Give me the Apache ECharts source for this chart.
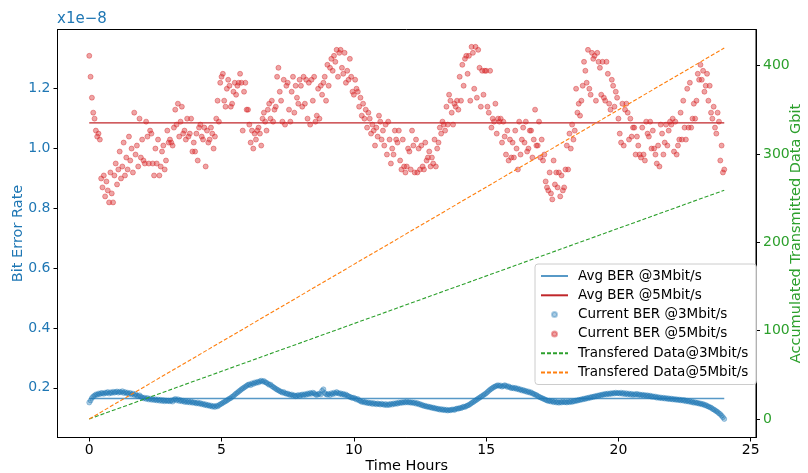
<!DOCTYPE html>
<html>
<head>
<meta charset="utf-8">
<script src="https://cdn.jsdelivr.net/npm/echarts/dist/echarts.min.js"></script>
<style>
  html, body { margin: 0; padding: 0; background: #fff; }
  #chart { width: 808px; height: 473px; }
</style>
</head>
<body>
<div id="chart"></div>
<script>
  // one sample every 3 minutes (0.05 h), 0 .. 24 h
  const STEP_HOURS = 0.05

  // current BER @5Mbit/s, x1e-8, one row per hour
  const berCur5 = [
    1.31, 1.24, 1.17, 1.12, 1.10, 1.06, 1.04, 1.05, 1.03, 0.90, 0.87, 0.91, 0.84, 0.89, 0.86, 0.82, 0.92, 0.85, 0.82, 0.91,
    0.95, 0.88, 0.93, 0.99, 0.90, 0.94, 1.02, 0.91, 0.97, 0.93, 1.04, 0.96, 1.00, 0.92, 1.12, 0.98, 1.01, 0.94, 1.10, 0.97,
    1.03, 0.96, 0.95, 1.09, 1.04, 0.95, 1.06, 1.05, 0.95, 0.91, 1.00, 0.95, 1.03, 0.91, 0.94, 0.99, 1.01, 0.93, 0.96, 1.06,
    1.02, 1.03, 1.02, 1.01, 1.07, 1.13, 1.08, 1.15, 1.04, 1.09, 1.14, 1.05, 1.06, 1.03, 1.10, 1.04, 1.05, 1.10, 0.99, 1.02,
    0.99, 1.05, 0.96, 1.07, 1.08, 1.04, 1.03, 1.07, 0.94, 1.06, 1.02, 1.03, 1.07, 1.05, 1.00, 1.04, 1.10, 1.16, 1.09, 1.22,
    1.24, 1.25, 1.16, 1.14, 1.20, 1.23, 1.21, 1.14, 1.15, 1.19, 1.22, 1.18, 1.21, 1.22, 1.25, 1.22, 1.06, 1.19, 1.22, 1.13,
    1.13, 1.08, 1.02, 1.06, 1.00, 1.05, 1.03, 1.06, 1.07, 1.05, 1.01, 1.10, 1.12, 1.09, 1.06, 1.13, 1.15, 1.10, 1.16, 1.09,
    1.13, 1.14, 1.24, 1.27, 1.19, 1.16, 1.09, 1.23, 1.08, 1.21, 1.22, 1.13, 1.09, 1.19, 1.24, 1.12, 1.21, 1.17, 1.15, 1.23,
    1.21, 1.14, 1.24, 1.15, 1.23, 1.10, 1.22, 1.08, 1.23, 1.16, 1.24, 1.09, 1.11, 1.20, 1.10, 1.21, 1.18, 1.22, 1.24, 1.16,
    1.28, 1.21, 1.27, 1.30, 1.26, 1.31, 1.29, 1.33, 1.24, 1.32, 1.33, 1.27, 1.25, 1.32, 1.22, 1.26, 1.23, 1.30, 1.24, 1.19,
    1.18, 1.23, 1.20, 1.19, 1.14, 1.17, 1.11, 1.15, 1.10, 1.13, 1.07, 1.12, 1.10, 1.05, 1.08, 1.06, 1.01, 1.07, 1.04, 1.11,
    1.09, 1.03, 1.06, 1.01, 1.08, 0.98, 1.09, 1.03, 0.95, 1.00, 0.98, 1.06, 1.03, 1.02, 1.06, 0.96, 0.93, 1.03, 0.94, 0.92,
    0.94, 1.00, 0.99, 0.93, 1.06, 1.01, 0.92, 1.03, 0.92, 1.00, 0.93, 1.01, 0.94, 0.93, 1.02, 0.96, 0.97, 0.99, 0.94, 0.97,
    0.95, 1.03, 0.94, 1.00, 1.02, 1.07, 1.05, 1.09, 1.08, 1.06, 1.14, 1.08, 1.18, 1.16, 1.12, 1.08, 1.15, 1.14, 1.16, 1.13,
    1.24, 1.16, 1.28, 1.21, 1.30, 1.31, 1.25, 1.31, 1.16, 1.34, 1.32, 1.20, 1.34, 1.17, 1.33, 1.27, 1.14, 1.26, 1.18, 1.26,
    1.26, 1.14, 1.12, 1.26, 1.07, 1.10, 1.09, 1.15, 1.05, 1.10, 1.09, 1.10, 1.02, 1.09, 1.04, 0.98, 1.06, 0.96, 1.03, 0.97,
    1.02, 0.97, 1.06, 1.00, 0.93, 1.09, 0.98, 1.03, 1.07, 1.02, 1.09, 0.99, 1.00, 1.06, 1.06, 0.97, 1.03, 1.13, 1.01, 1.01,
    1.09, 0.97, 1.03, 0.96, 0.98, 0.89, 0.87, 0.86, 0.92, 0.85, 0.83, 0.96, 0.88, 0.92, 0.87, 0.92, 0.84, 0.91, 0.86, 0.87,
    0.93, 1.01, 0.93, 1.05, 1.00, 1.08, 1.03, 1.06, 1.20, 1.12, 1.15, 1.11, 1.16, 1.21, 1.29, 1.26, 1.22, 1.33, 1.20, 1.18,
    1.32, 1.30, 1.31, 1.16, 1.32, 1.29, 1.27, 1.18, 1.29, 1.17, 1.16, 1.29, 1.25, 1.15, 1.13, 1.23, 1.21, 1.14, 1.19, 1.17,
    1.10, 1.05, 1.02, 1.15, 1.01, 1.13, 1.15, 1.12, 1.03, 1.10, 1.04, 1.07, 1.07, 0.98, 1.04, 1.01, 0.98, 0.97, 1.07, 0.98,
    0.96, 1.09, 1.05, 1.04, 1.09, 1.00, 1.06, 1.00, 0.98, 0.95, 1.01, 0.94, 1.08, 1.05, 0.98, 1.02, 1.08, 1.01, 1.06, 1.09,
    1.08, 1.10, 0.99, 1.09, 0.98, 1.01, 1.03, 1.12, 1.03, 1.16, 1.07, 1.03, 1.20, 1.07, 1.22, 1.07, 1.10, 1.15, 1.10, 1.16,
    1.25, 1.23, 1.28, 1.23, 1.26, 1.19, 1.21, 1.25, 1.16, 1.21, 1.12, 1.10, 1.14, 1.07, 1.05, 1.12, 1.09, 0.96, 1.01, 0.92,
    0.93
  ]

  // current BER @3Mbit/s, x1e-8, one row per hour
  const berCur3 = [
    0.151, 0.158, 0.166, 0.171, 0.174, 0.178, 0.177, 0.181, 0.179, 0.183, 0.182, 0.180, 0.184, 0.183, 0.186, 0.181, 0.185, 0.183, 0.187, 0.184,
    0.186, 0.188, 0.184, 0.187, 0.185, 0.189, 0.183, 0.186, 0.182, 0.184, 0.180, 0.183, 0.178, 0.181, 0.176, 0.179, 0.174, 0.172, 0.175, 0.170,
    0.168, 0.165, 0.167, 0.163, 0.166, 0.161, 0.164, 0.160, 0.163, 0.159, 0.162, 0.158, 0.161, 0.157, 0.160, 0.156, 0.159, 0.155, 0.158, 0.156,
    0.157, 0.155, 0.158, 0.154, 0.160, 0.163, 0.158, 0.162, 0.156, 0.159, 0.155, 0.157, 0.153, 0.156, 0.152, 0.155, 0.151, 0.154, 0.150, 0.152,
    0.150, 0.148, 0.151, 0.147, 0.149, 0.145, 0.147, 0.143, 0.145, 0.141, 0.143, 0.139, 0.141, 0.137, 0.139, 0.136, 0.140, 0.138, 0.142, 0.145,
    0.147, 0.150, 0.153, 0.155, 0.158, 0.161, 0.164, 0.166, 0.170, 0.173, 0.177, 0.181, 0.184, 0.188, 0.191, 0.195, 0.198, 0.201, 0.204, 0.207,
    0.210, 0.212, 0.209, 0.215, 0.213, 0.218, 0.216, 0.220, 0.218, 0.222, 0.224, 0.221, 0.223, 0.219, 0.217, 0.214, 0.210, 0.211, 0.206, 0.203,
    0.200, 0.197, 0.194, 0.192, 0.189, 0.187, 0.184, 0.186, 0.182, 0.180, 0.181, 0.178, 0.176, 0.178, 0.174, 0.175, 0.172, 0.174, 0.176, 0.173,
    0.176, 0.178, 0.175, 0.179, 0.177, 0.181, 0.179, 0.183, 0.180, 0.184, 0.182, 0.178, 0.176, 0.179, 0.181, 0.178, 0.190, 0.195, 0.183, 0.179,
    0.177, 0.180, 0.176, 0.182, 0.179, 0.184, 0.181, 0.186, 0.183, 0.180, 0.182, 0.178, 0.180, 0.176, 0.178, 0.174, 0.172, 0.170, 0.168, 0.166,
    0.167, 0.164, 0.161, 0.163, 0.158, 0.156, 0.153, 0.155, 0.151, 0.153, 0.149, 0.151, 0.148, 0.150, 0.146, 0.149, 0.147, 0.145, 0.148, 0.146,
    0.144, 0.147, 0.145, 0.143, 0.146, 0.142, 0.145, 0.143, 0.147, 0.144, 0.148, 0.146, 0.149, 0.147, 0.151, 0.149, 0.152, 0.150, 0.153, 0.151,
    0.154, 0.151, 0.153, 0.150, 0.152, 0.149, 0.151, 0.147, 0.149, 0.145, 0.146, 0.142, 0.143, 0.139, 0.140, 0.137, 0.138, 0.135, 0.136, 0.133,
    0.134, 0.131, 0.132, 0.129, 0.130, 0.127, 0.129, 0.126, 0.128, 0.125, 0.127, 0.124, 0.126, 0.125, 0.127, 0.128, 0.126, 0.129, 0.131, 0.130,
    0.133, 0.132, 0.135, 0.137, 0.136, 0.139, 0.141, 0.143, 0.146, 0.149, 0.152, 0.155, 0.158, 0.161, 0.164, 0.167, 0.170, 0.173, 0.176, 0.179,
    0.182, 0.186, 0.190, 0.194, 0.197, 0.200, 0.203, 0.205, 0.207, 0.209, 0.206, 0.208, 0.204, 0.206, 0.209, 0.207, 0.203, 0.205, 0.202, 0.199,
    0.201, 0.198, 0.200, 0.196, 0.198, 0.194, 0.195, 0.191, 0.193, 0.189, 0.190, 0.186, 0.188, 0.184, 0.185, 0.181, 0.180, 0.177, 0.176, 0.173,
    0.170, 0.168, 0.166, 0.164, 0.162, 0.160, 0.158, 0.156, 0.157, 0.154, 0.156, 0.152, 0.155, 0.151, 0.153, 0.150, 0.153, 0.151, 0.154, 0.152,
    0.153, 0.151, 0.154, 0.152, 0.155, 0.153, 0.156, 0.155, 0.158, 0.157, 0.160, 0.159, 0.162, 0.161, 0.164, 0.163, 0.166, 0.165, 0.168, 0.167,
    0.170, 0.169, 0.172, 0.171, 0.174, 0.173, 0.176, 0.175, 0.178, 0.177, 0.180, 0.178, 0.181, 0.179, 0.182, 0.180, 0.183, 0.181, 0.184, 0.182,
    0.183, 0.181, 0.184, 0.180, 0.183, 0.179, 0.182, 0.178, 0.181, 0.177, 0.180, 0.176, 0.179, 0.177, 0.180, 0.176, 0.178, 0.175, 0.177, 0.174,
    0.176, 0.173, 0.175, 0.172, 0.174, 0.170, 0.172, 0.169, 0.171, 0.167, 0.169, 0.166, 0.168, 0.165, 0.167, 0.164, 0.166, 0.163, 0.165, 0.162,
    0.164, 0.161, 0.163, 0.160, 0.162, 0.159, 0.161, 0.158, 0.160, 0.157, 0.159, 0.155, 0.157, 0.154, 0.156, 0.152, 0.154, 0.150, 0.152, 0.149,
    0.150, 0.147, 0.148, 0.145, 0.146, 0.142, 0.143, 0.139, 0.138, 0.135, 0.134, 0.130, 0.128, 0.125, 0.122, 0.119, 0.115, 0.112, 0.107, 0.102,
    0.096
  ]

  // average BER lines (x1e-8) over the whole run
  const avgHours = [0, 24]
  const avgBer3 = [0.164, 0.164]
  const avgBer5 = [1.086, 1.086]

  // accumulated transmitted data, Gbit
  const transferHours = [0, 24]
  const transfer3 = [0, 259]
  const transfer5 = [0, 420]

  // tick labels
  const xTicks = [0, 5, 10, 15, 20, 25]
  const berTicks = [0.2, 0.4, 0.6, 0.8, 1.0, 1.2]
  const dataTicks = [0, 100, 200, 300, 400]

  const legendNames = [
    'Avg BER @3Mbit/s', 'Avg BER @5Mbit/s',
    'Current BER @3Mbit/s', 'Current BER @5Mbit/s',
    'Transfered Data@3Mbit/s', 'Transfered Data@5Mbit/s'
  ]

  const BLUE = '#1f77b4'
  const RED = '#d62728'
  const GREEN = '#2ca02c'
  const ORANGE = '#ff7f0e'
  const FONT = 'DejaVu Sans'

  const toPoints = (xs, ys) => ys.map((y, i) => [xs[i], y])
  const toSamples = (ys) => ys.map((y, i) => [+(i * STEP_HOURS).toFixed(2), y])

  const mChart = echarts.init(document.getElementById('chart'))

  // line series: hide the legend dot, keep only the line
  const lineSeries = (name, axis, data, color, lineStyle, z) => ({
    name, type: 'line', yAxisIndex: axis, data,
    showSymbol: false, symbol: 'none', z,
    lineStyle: Object.assign({ color }, lineStyle),
    itemStyle: { color, opacity: 0 }
  })

  // scatter series: translucent face plus a ring of the same colour
  const dotSeries = (name, data, color, opacity) => ({
    name, type: 'scatter', yAxisIndex: 0, data,
    symbol: 'circle', symbolSize: 5, z: 3,
    itemStyle: { color, opacity, borderColor: color, borderWidth: 1 }
  })

  const options = {
    animation: false,
    textStyle: { fontFamily: FONT },
    grid: {
      left: 57.5, right: 52, top: 29.5, bottom: 35.5,
      outerBoundsMode: 'none', containLabel: false,
      show: true, borderColor: '#000', borderWidth: 1, backgroundColor: 'transparent'
    },
    graphic: [{
      type: 'text', left: 57, top: 12,
      style: { text: 'x1e\u22128', fill: BLUE, font: '15px "DejaVu Sans"' }
    }],
    legend: {
      data: legendNames,
      orient: 'vertical',
      left: 535, top: 264,
      padding: [5, 8, 5, 5],
      itemWidth: 27, itemHeight: 5, itemGap: 5.3,
      backgroundColor: 'rgba(255,255,255,0.8)',
      borderColor: '#cccccc', borderWidth: 1, borderRadius: 3,
      textStyle: { fontSize: 13.5, color: '#000', fontFamily: FONT, lineHeight: 14, padding: [0, 0, 0, 5] }
    },
    xAxis: {
      type: 'value', min: -1.2, max: 25.2,
      name: 'Time Hours', nameLocation: 'middle', nameGap: 21, nameMoveOverlap: false,
      nameTextStyle: { fontSize: 14.5, color: '#000' },
      splitLine: { show: false },
      axisLine: { show: true, onZero: false, lineStyle: { color: '#000' } },
      axisTick: { show: true, length: 4, customValues: xTicks, lineStyle: { color: '#000' } },
      axisLabel: { customValues: xTicks, fontSize: 14, color: '#000', margin: 6 }
    },
    yAxis: [{
      type: 'value', min: 0.034, max: 1.398, position: 'left',
      name: 'Bit Error Rate', nameLocation: 'middle', nameGap: 32, nameRotate: 90, nameMoveOverlap: false,
      nameTextStyle: { fontSize: 14.5, color: BLUE },
      splitLine: { show: false },
      axisLine: { show: true, onZero: false, lineStyle: { color: '#000' } },
      axisTick: { show: true, length: 4, customValues: berTicks, lineStyle: { color: '#000' } },
      axisLabel: { customValues: berTicks, fontSize: 14, color: BLUE, margin: 7, formatter: (v) => v.toFixed(1) }
    }, {
      type: 'value', min: -21, max: 441, position: 'right',
      name: 'Accumulated Transmitted Data Gbit', nameLocation: 'middle', nameGap: 33, nameRotate: 90, nameMoveOverlap: false,
      nameTextStyle: { fontSize: 14.5, color: GREEN },
      splitLine: { show: false },
      axisLine: { show: true, onZero: false, lineStyle: { color: '#000' } },
      axisTick: { show: true, length: 4, customValues: dataTicks, lineStyle: { color: '#000' } },
      axisLabel: { customValues: dataTicks, fontSize: 14, color: GREEN, margin: 7 }
    }],
    series: [
      lineSeries(legendNames[0], 0, toPoints(avgHours, avgBer3), BLUE, { width: 1.5, opacity: 0.75 }, 2),
      lineSeries(legendNames[1], 0, toPoints(avgHours, avgBer5), '#c0262a', { width: 1.3 }, 2),
      dotSeries(legendNames[2], toSamples(berCur3), BLUE, 0.36),
      dotSeries(legendNames[3], toSamples(berCur5), RED, 0.42),
      lineSeries(legendNames[4], 1, toPoints(transferHours, transfer3), GREEN, { width: 1.1, type: [4, 2] }, 4),
      lineSeries(legendNames[5], 1, toPoints(transferHours, transfer5), ORANGE, { width: 1.1, type: [4, 2] }, 4)
    ]
  }

  mChart.setOption(options)
</script>
</body>
</html>
